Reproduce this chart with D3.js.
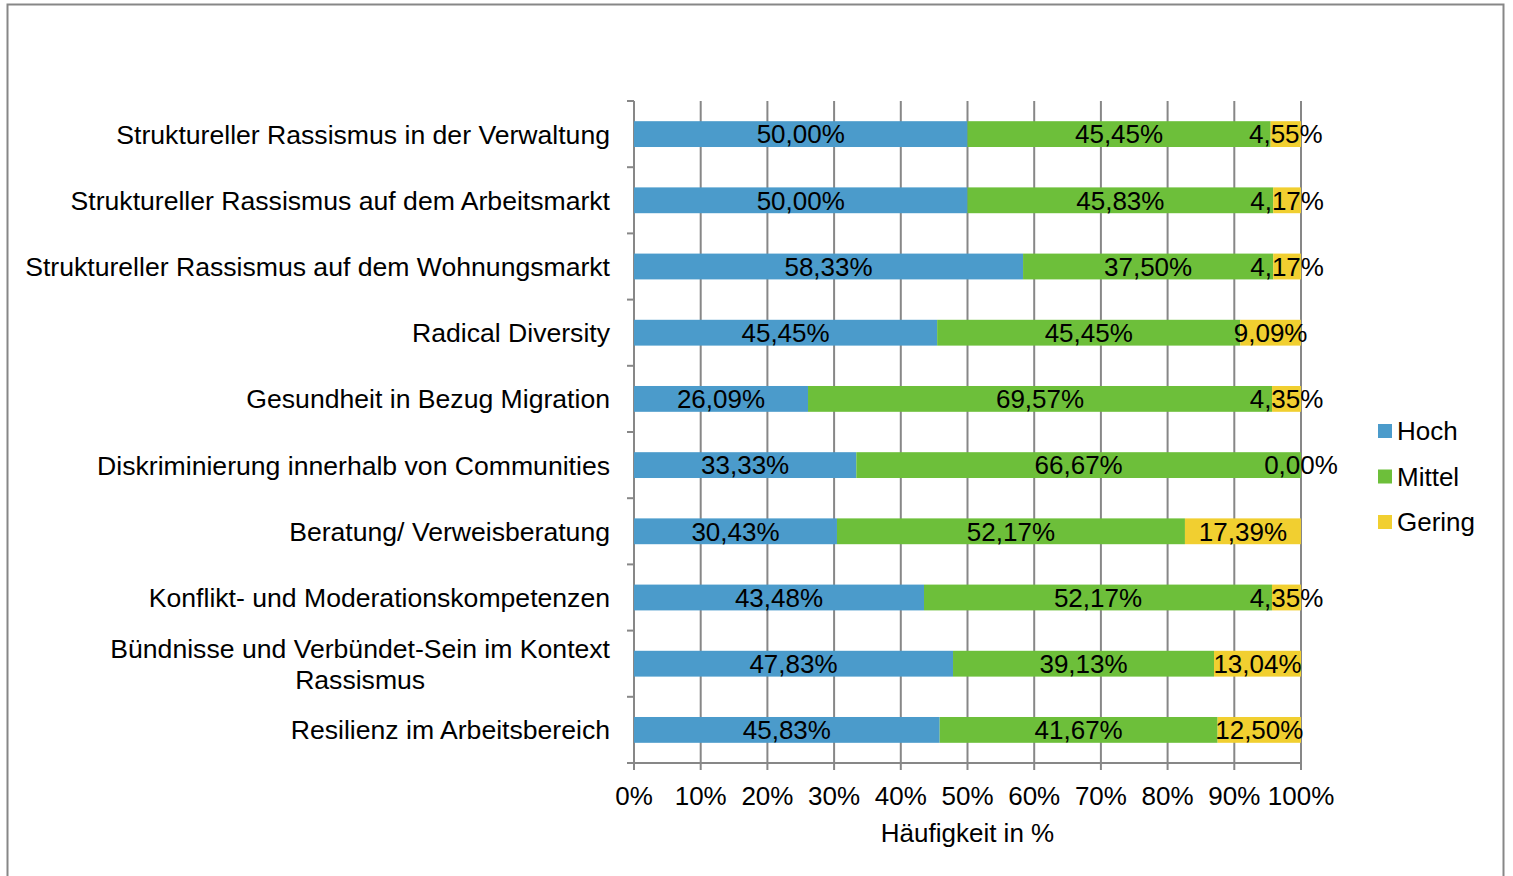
<!DOCTYPE html>
<html>
<head>
<meta charset="utf-8">
<script src="https://cdn.jsdelivr.net/npm/d3@7"></script>
<style>
  body { margin: 0; background: #fff; }
  svg { display: block; font-family: "Liberation Sans", Arial, sans-serif; }
</style>
</head>
<body>
<div id="chart"></div>
<script>
const categories = [
  "Struktureller Rassismus in der Verwaltung",
  "Struktureller Rassismus auf dem Arbeitsmarkt",
  "Struktureller Rassismus auf dem Wohnungsmarkt",
  "Radical Diversity",
  "Gesundheit in Bezug Migration",
  "Diskriminierung innerhalb von Communities",
  "Beratung/ Verweisberatung",
  "Konflikt- und Moderationskompetenzen",
  "Bündnisse und Verbündet-Sein im Kontext|Rassismus",
  "Resilienz im Arbeitsbereich"
];
const hoch   = [50.00, 50.00, 58.33, 45.45, 26.09, 33.33, 30.43, 43.48, 47.83, 45.83];
const mittel = [45.45, 45.83, 37.50, 45.45, 69.57, 66.67, 52.17, 52.17, 39.13, 41.67];
const gering = [4.55, 4.17, 4.17, 9.09, 4.35, 0.00, 17.39, 4.35, 13.04, 12.50];
const seriesNames = ["Hoch", "Mittel", "Gering"];
const ticks = [0, 10, 20, 30, 40, 50, 60, 70, 80, 90, 100];

const colors = { Hoch: "#4b9bcb", Mittel: "#6dbf3a", Gering: "#f1cf30" };
const gridColor = "#878787";

const width = 1513, height = 876;
const margin = { top: 101, left: 634, right: 212, bottom: 113 };

const rows = categories.map((c, i) => ({ cat: c, Hoch: hoch[i], Mittel: mittel[i], Gering: gering[i] }));
const stacked = d3.stack().keys(seriesNames)(rows);

const x = d3.scaleLinear().domain([0, 100]).range([margin.left, width - margin.right]);
const y = d3.scaleBand().domain(categories).range([margin.top, height - margin.bottom]).paddingInner(0.61).paddingOuter(0.305);
const band = d3.scaleBand().domain(categories).range([margin.top, height - margin.bottom]);

const svg = d3.select("#chart").append("svg")
  .attr("width", width).attr("height", height);

// outer frame
svg.append("rect")
  .attr("x", 7.5).attr("y", 4.5).attr("width", 1496).attr("height", 900)
  .attr("fill", "none").attr("stroke", gridColor).attr("stroke-width", 2);

// gridlines
svg.append("g").selectAll("line").data(ticks).join("line")
  .attr("x1", d => x(d)).attr("x2", d => x(d))
  .attr("y1", margin.top).attr("y2", height - margin.bottom + 7)
  .attr("stroke", gridColor).attr("stroke-width", 2);

// left axis + ticks at band boundaries
const yBounds = categories.map(c => band(c)).concat([height - margin.bottom]);
svg.append("line")
  .attr("x1", x(0)).attr("x2", x(0))
  .attr("y1", margin.top).attr("y2", height - margin.bottom)
  .attr("stroke", gridColor).attr("stroke-width", 2);
svg.append("g").selectAll("line").data(yBounds).join("line")
  .attr("x1", x(0) - 7).attr("x2", x(0))
  .attr("y1", d => d).attr("y2", d => d)
  .attr("stroke", gridColor).attr("stroke-width", 2);
svg.append("line")
  .attr("x1", x(0)).attr("x2", x(100))
  .attr("y1", height - margin.bottom).attr("y2", height - margin.bottom)
  .attr("stroke", gridColor).attr("stroke-width", 2);

// bars
const layer = svg.append("g").selectAll("g").data(stacked).join("g")
  .attr("fill", d => colors[d.key]);
layer.selectAll("rect").data(d => d).join("rect")
  .attr("x", d => x(d[0]))
  .attr("y", d => y(d.data.cat))
  .attr("width", d => x(d[1]) - x(d[0]))
  .attr("height", y.bandwidth());

// data labels
const fmt = v => v.toFixed(2).replace(".", ",") + "%";
svg.append("g").selectAll("g").data(stacked).join("g")
  .selectAll("text").data(d => d).join("text")
  .attr("x", d => (x(d[0]) + x(d[1])) / 2)
  .attr("y", d => y(d.data.cat) + y.bandwidth() / 2)
  .attr("dy", "0.36em")
  .attr("text-anchor", "middle")
  .attr("font-size", 26)
  .attr("fill", "#000")
  .text(d => fmt(d[1] - d[0]));

// category labels
const catSize = 26.6;
const catG = svg.append("g");
categories.forEach(c => {
  const lines = c.split("|");
  const cy = band(c) + band.bandwidth() / 2;
  const lh = 31;
  const y0 = cy - (lines.length - 1) * lh / 2;
  if (lines.length === 1) {
    catG.append("text").attr("x", 610).attr("y", cy).attr("dy", "0.36em")
      .attr("text-anchor", "end").attr("font-size", catSize).text(c);
  } else {
    const t0 = catG.append("text").attr("x", 610).attr("y", y0).attr("dy", "0.36em")
      .attr("text-anchor", "end").attr("font-size", catSize).text(lines[0]);
    const w = t0.node().getComputedTextLength();
    catG.append("text").attr("x", 610 - w / 2).attr("y", y0 + lh).attr("dy", "0.36em")
      .attr("text-anchor", "middle").attr("font-size", catSize).text(lines[1]);
  }
});

// x tick labels
svg.append("g").selectAll("text").data(ticks).join("text")
  .attr("x", d => x(d)).attr("y", 805)
  .attr("text-anchor", "middle").attr("font-size", 26)
  .text(d => d + "%");

svg.append("text")
  .attr("x", (x(0) + x(100)) / 2).attr("y", 842)
  .attr("text-anchor", "middle").attr("font-size", 26)
  .text("Häufigkeit in %");

// legend
const leg = svg.append("g").selectAll("g").data(seriesNames).join("g")
  .attr("transform", (d, i) => `translate(1378, ${431 + i * 45.5})`);
leg.append("rect").attr("x", 0).attr("y", -7).attr("width", 14).attr("height", 14)
  .attr("fill", d => colors[d]);
leg.append("text").attr("x", 19).attr("y", 0).attr("dy", "0.36em")
  .attr("font-size", 26).text(d => d);
</script>
</body>
</html>
